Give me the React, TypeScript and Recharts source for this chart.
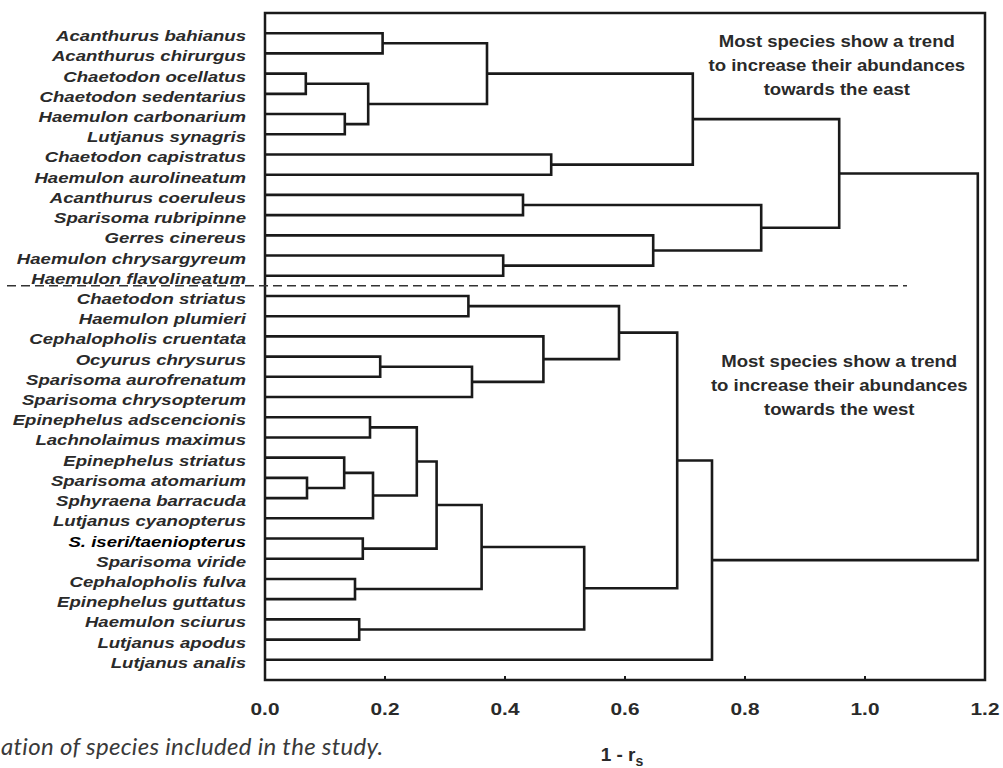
import React from "react";
import {
  ScatterChart,
  Scatter,
  XAxis,
  YAxis,
  ReferenceArea,
  ReferenceLine,
  ReferenceDot,
} from "recharts";

// leaves, top to bottom
const species = [
  "Acanthurus bahianus",
  "Acanthurus chirurgus",
  "Chaetodon ocellatus",
  "Chaetodon sedentarius",
  "Haemulon carbonarium",
  "Lutjanus synagris",
  "Chaetodon capistratus",
  "Haemulon aurolineatum",
  "Acanthurus coeruleus",
  "Sparisoma rubripinne",
  "Gerres cinereus",
  "Haemulon chrysargyreum",
  "Haemulon flavolineatum",
  "Chaetodon striatus",
  "Haemulon plumieri",
  "Cephalopholis cruentata",
  "Ocyurus chrysurus",
  "Sparisoma aurofrenatum",
  "Sparisoma chrysopterum",
  "Epinephelus adscencionis",
  "Lachnolaimus maximus",
  "Epinephelus striatus",
  "Sparisoma atomarium",
  "Sphyraena barracuda",
  "Lutjanus cyanopterus",
  "S. iseri/taeniopterus",
  "Sparisoma viride",
  "Cephalopholis fulva",
  "Epinephelus guttatus",
  "Haemulon sciurus",
  "Lutjanus apodus",
  "Lutjanus analis",
];

// linkage rows: [child a, child b, 1 - rs]; ids from 32 up are earlier rows
const merges: [number, number, number][] = [
  [2, 3, 0.068], // 32
  [4, 5, 0.133], // 33
  [32, 33, 0.172], // 34
  [0, 1, 0.196], // 35
  [35, 34, 0.37], // 36
  [6, 7, 0.477], // 37
  [36, 37, 0.713], // 38
  [8, 9, 0.43], // 39
  [11, 12, 0.397], // 40
  [10, 40, 0.647], // 41
  [39, 41, 0.827], // 42
  [38, 42, 0.957], // 43 east group
  [13, 14, 0.339], // 44
  [16, 17, 0.192], // 45
  [45, 18, 0.345], // 46
  [15, 46, 0.464], // 47
  [44, 47, 0.59], // 48
  [19, 20, 0.175], // 49
  [22, 23, 0.07], // 50
  [21, 50, 0.132], // 51
  [51, 24, 0.18], // 52
  [49, 52, 0.253], // 53
  [25, 26, 0.163], // 54
  [53, 54, 0.286], // 55
  [27, 28, 0.15], // 56
  [55, 56, 0.361], // 57
  [29, 30, 0.157], // 58
  [57, 58, 0.532], // 59
  [48, 59, 0.687], // 60
  [60, 31, 0.745], // 61 west group
  [43, 61, 1.188], // 62 root
];

const xTicks = [0, 0.2, 0.4, 0.6, 0.8, 1.0, 1.2];
const eastNote = ["Most species show a trend", "to increase their abundances", "towards the east"];
const westNote = ["Most species show a trend", "to increase their abundances", "towards the west"];
const groupSplit = 12.5;

const FONT = "'Liberation Sans', Arial, Helvetica, sans-serif";
const INK = "#1a1a1a";

// each merge becomes a bracket: child a -> node height -> child b
function buildLinks() {
  const pos = species.map((_, i) => i);
  const height = species.map(() => 0);
  return merges.map(([a, b, h]) => {
    const ya = pos[a];
    const yb = pos[b];
    pos.push((ya + yb) / 2);
    height.push(h);
    return [
      { x: height[a], y: ya },
      { x: h, y: ya },
      { x: h, y: yb },
      { x: height[b], y: yb },
    ];
  });
}

const links = buildLinks();
const leafTicks = species.map((_, i) => i);

const noDot = () => <g />;

function SpeciesTick({ x, y, payload }: any) {
  const name = species[payload.value];
  return (
    <text
      transform={`translate(${x - 19}, ${y + 8}) scale(1.24, 1)`}
      textAnchor="end"
      fontFamily={FONT}
      fontSize={15}
      fontWeight="bold"
      fontStyle="italic"
      fill={name.startsWith("S. ") ? "#000" : "#2a2a2a"}
    >
      {name}
    </text>
  );
}

function ValueTick({ x, y, payload }: any) {
  const v = payload.value as number;
  return (
    <g>
      {v > 0 && v < 1.2 && (
        <line x1={x} x2={x} y1={y} y2={y - 4} stroke={INK} strokeWidth={2} />
      )}
      <text
        transform={`translate(${x}, ${y + 35}) scale(1.3, 1)`}
        textAnchor="middle"
        fontFamily={FONT}
        fontSize={16}
        fontWeight="bold"
        fill="#2a2a2a"
      >
        {v.toFixed(1)}
      </text>
    </g>
  );
}

function AxisTitle(props: any) {
  const { x, y, width } = props.viewBox;
  return (
    <text
      x={x + width / 2 - 3}
      y={y + 81}
      textAnchor="middle"
      fontFamily={FONT}
      fontSize={19}
      fontWeight="bold"
      fill="#2a2a2a"
    >
      1 - r
      <tspan fontSize={14} dy={5}>
        s
      </tspan>
    </text>
  );
}

function note(lines: string[]) {
  return (props: any) => (
    <g transform={`translate(${props.cx}, ${props.cy})`}>
      {lines.map((line, i) => (
        <text
          key={i}
          x={0}
          y={i * 24}
          transform="scale(1.16, 1)"
          textAnchor="middle"
          fontFamily={FONT}
          fontSize={16}
          fontWeight="bold"
          fill="#2a2a2a"
        >
          {line}
        </text>
      ))}
    </g>
  );
}

export default function App() {
  return (
    <div style={{ position: "fixed", left: 0, top: 0, width: 1003, height: 768, background: "#fff" }}>
      <ScatterChart width={1003} height={768} margin={{ top: 13, right: 18, bottom: 28, left: 0 }}>
        <XAxis
          type="number"
          dataKey="x"
          domain={[0, 1.2]}
          ticks={xTicks}
          interval={0}
          allowDataOverflow
          axisLine={false}
          tickLine={false}
          tickSize={0}
          tickMargin={0}
          height={60}
          tick={ValueTick}
          label={AxisTitle}
        />
        <YAxis
          type="number"
          dataKey="y"
          domain={[-1, 32]}
          reversed
          ticks={leafTicks}
          interval={0}
          allowDataOverflow
          axisLine={false}
          tickLine={false}
          tickSize={0}
          tickMargin={0}
          width={265}
          tick={SpeciesTick}
        />
        <ReferenceArea x1={0} x2={1.2} y1={-1} y2={32} fill="none" stroke={INK} strokeWidth={2.5} />
        <ReferenceLine
          segment={[
            { x: -0.43, y: groupSplit },
            { x: 1.07, y: groupSplit },
          ]}
          ifOverflow="visible"
          stroke="#333"
          strokeWidth={1.5}
          strokeDasharray="9 5"
        />
        {links.map((pts, i) => (
          <Scatter
            key={i}
            data={pts}
            line={{ stroke: INK, strokeWidth: 2.6 }}
            lineType="joint"
            shape={noDot}
            isAnimationActive={false}
          />
        ))}
        <ReferenceDot x={0.953} y={0.7} r={0} shape={note(eastNote)} />
        <ReferenceDot x={0.957} y={16.52} r={0} shape={note(westNote)} />
      </ScatterChart>
      <div
        style={{
          position: "absolute",
          left: 1,
          top: 734,
          fontFamily: "Lato, 'Open Sans', sans-serif",
          fontStyle: "italic",
          fontSize: 24,
          lineHeight: "24px",
          letterSpacing: 0.3,
          color: "#3a3a3a",
          whiteSpace: "nowrap",
        }}
      >
        ation of species included in the study.
      </div>
    </div>
  );
}
